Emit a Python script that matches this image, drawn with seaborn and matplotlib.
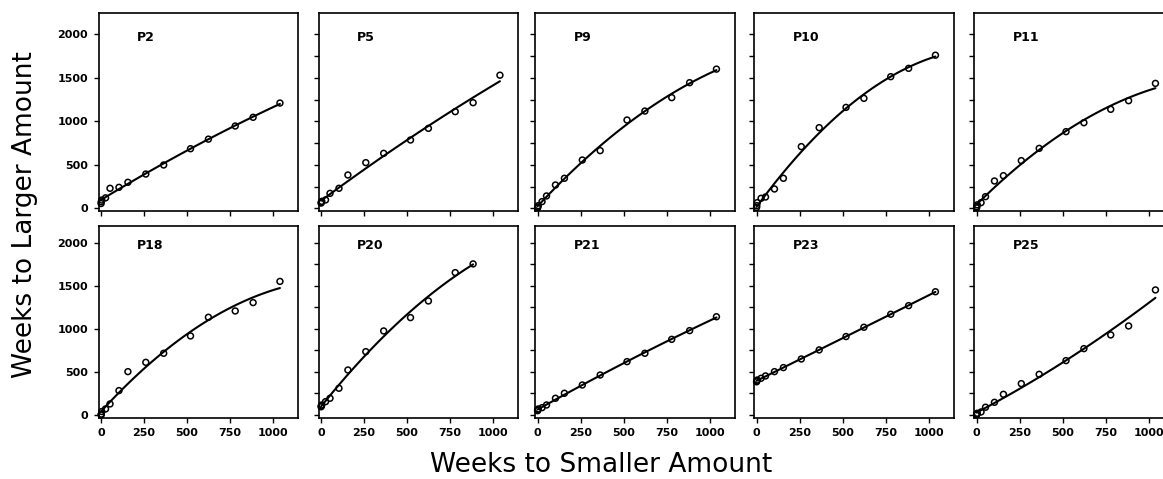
import numpy as np
import pandas as pd
import matplotlib
matplotlib.use("Agg")
import matplotlib.pyplot as plt
import seaborn as sns

# ---- data ----
delays = [0, 1, 4, 26, 52, 104, 156, 260, 364, 520, 624, 780, 884, 1040]

participants = ["P2", "P5", "P9", "P10", "P11", "P18", "P20", "P21", "P23", "P25"]

p2 = [55, 75, 95, 120, 230, 241, 299, 394, 498, 685, 795, 946, 1046, 1210]
p5 = [60, 70, 80, 96, 172, 230, 383, 525, 632, 785, 919, 1111, 1214, 1530]
p9 = [5, 15, 30, 77, 142, 268, 345, 555, 663, 1015, 1118, 1272, 1444, 1600]
p10 = [10, 30, 65, 115, 130, 222, 345, 709, 927, 1160, 1264, 1513, 1609, 1760]
p11 = [5, 20, 40, 65, 134, 314, 375, 548, 689, 881, 984, 1138, 1237, 1436]
p18 = [0, 10, 40, 70, 128, 283, 503, 611, 716, 917, 1134, 1207, 1304, 1550]
p20 = [95, 105, 116, 155, 194, 310, 522, 735, 975, 1130, 1323, 1652, 1753]
p21 = [50, 60, 70, 85, 116, 194, 252, 348, 464, 619, 716, 878, 979, 1140]
p23 = [385, 395, 406, 426, 453, 503, 550, 650, 755, 910, 1018, 1169, 1269, 1430]
p25 = [0, 10, 20, 35, 90, 147, 240, 364, 472, 631, 770, 929, 1033, 1451]

series = [p2, p5, p9, p10, p11, p18, p20, p21, p23, p25]

x_ticks = [0, 250, 500, 750, 1000]
y_ticks = [0, 500, 1000, 1500, 2000]

# ---- style ----
sns.set_style("ticks")
plt.rcParams["font.family"] = ["DejaVu Sans"]
plt.rcParams["axes.linewidth"] = 1.2
plt.rcParams["text.color"] = "black"

W, H = 1163, 479
fig = plt.figure(figsize=(W / 100, H / 100), dpi=100)

col_left_px = [98.5, 318.5, 535.0, 754.0, 974.0]
width_px = 199.5
rows = [  # (top px, bottom px, ylim)
    (13, 211, (-31, 2245)),
    (226, 418, (-35, 2193)),
]

for i, (name, vals) in enumerate(zip(participants, series)):
    r, c = divmod(i, 5)
    top, bot, ylim = rows[r]
    ax = fig.add_axes([col_left_px[c] / W, 1 - bot / H, width_px / W, (bot - top) / H])
    df = pd.DataFrame({"smaller": delays[:len(vals)], "larger": vals})
    sns.regplot(data=df, x="smaller", y="larger", order=2, ci=None, scatter=False,
                line_kws=dict(color="black", lw=1.5), ax=ax)
    sns.scatterplot(data=df, x="smaller", y="larger", ax=ax, s=18, marker="o",
                    facecolor="none", edgecolor="black", linewidth=1.1,
                    zorder=3, clip_on=False)
    ax.set_xlim(-15, 1145)
    ax.set_ylim(*ylim)
    ax.set_xticks(x_ticks)
    if c == 0:
        ax.set_yticks(y_ticks)
        ax.set_yticklabels([str(v) for v in y_ticks], fontsize=8, fontweight="bold")
    else:
        ax.set_yticks(np.arange(0, 2001, 250))
        ax.set_yticklabels([])
    if r == 1:
        ax.set_xticklabels([str(v) for v in x_ticks], fontsize=8, fontweight="bold")
    else:
        ax.set_xticklabels([])
    ax.tick_params(direction="out", length=3.5, width=1, colors="black",
                   labelcolor="black", pad=4)
    ax.set_xlabel("")
    ax.set_ylabel("")
    for s in ax.spines.values():
        s.set_visible(True)
        s.set_color("black")
    ax.text(210, 1965, name, fontsize=9, fontweight="bold", color="black",
            ha="left", va="center")

fig.text(25 / W, 1 - 215 / H, "Weeks to Larger Amount", rotation=90,
         ha="center", va="center", fontsize=19, color="black")
fig.text(601 / W, 1 - 465 / H, "Weeks to Smaller Amount",
         ha="center", va="center", fontsize=19, color="black")

fig.savefig("out.png", dpi=100)
